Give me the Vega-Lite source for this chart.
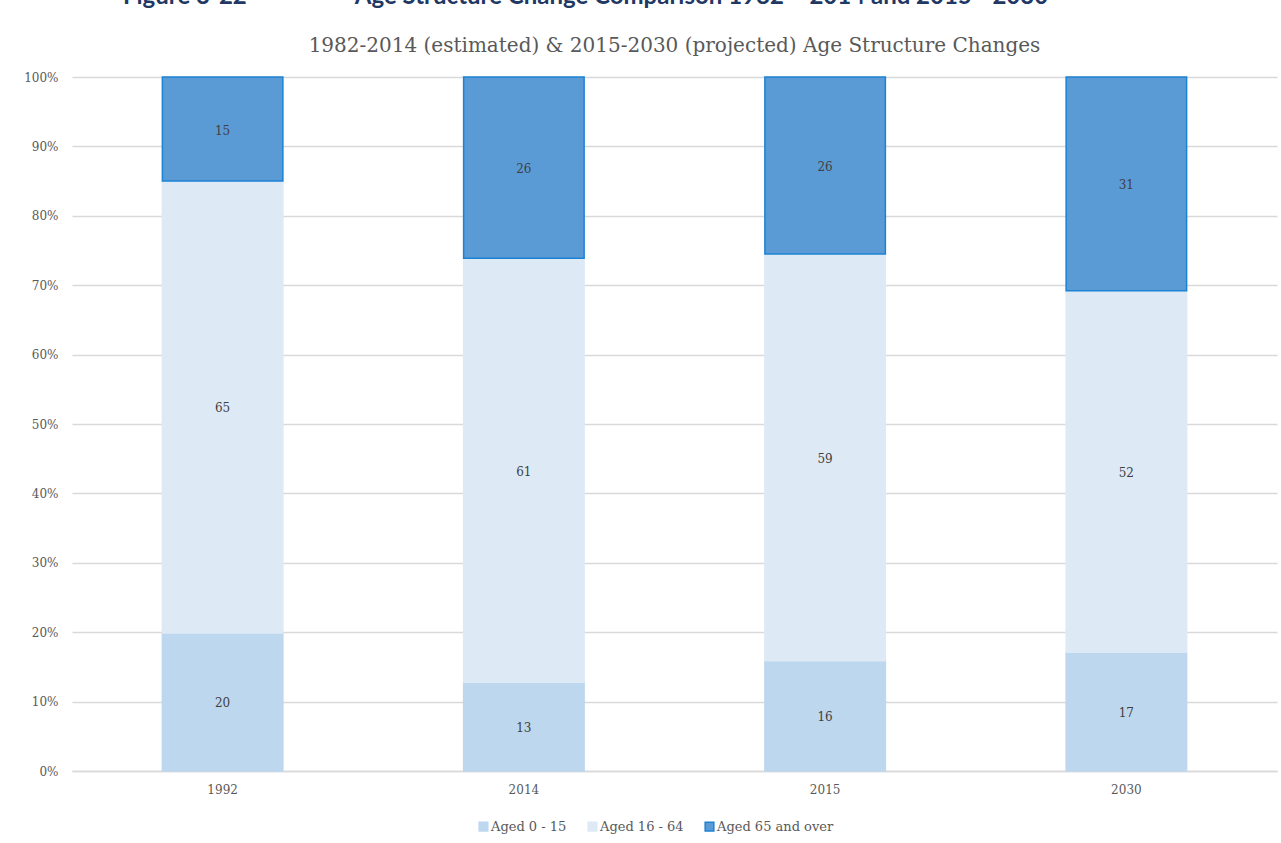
{
  "$schema": "https://vega.github.io/schema/vega-lite/v6.json",
  "width": 1205,
  "height": 694,
  "autosize": {"type": "none"},
  "padding": {"left": 72, "top": 77, "right": 4, "bottom": 72},
  "background": "white",
  "config": {"view": {"stroke": null}},
  "title": {
    "text": "Figure 3-22\u2003\u2003\u2003\u2003\u2003\u2003Age Structure Change Comparison 1982 \u2013 2014 and 2015 - 2030",
    "subtitle": "1982-2014 (estimated) & 2015-2030 (projected) Age Structure Changes",
    "anchor": "middle",
    "font": "Lato",
    "fontSize": 24,
    "fontWeight": "bold",
    "color": "#1F3864",
    "subtitleFont": "DejaVu Serif",
    "subtitleFontSize": 20,
    "subtitleColor": "#595959",
    "subtitlePadding": 27,
    "offset": 15,
    "encoding": {"dx": {"value": -89}}
  },
  "data": {
    "values": [
      {"year": "1992", "group": "Aged 0 - 15", "k": 1, "value": 19.9},
      {"year": "1992", "group": "Aged 16 - 64", "k": 2, "value": 65.1},
      {"year": "1992", "group": "Aged 65 and over", "k": 3, "value": 15.0},
      {"year": "2014", "group": "Aged 0 - 15", "k": 1, "value": 12.8},
      {"year": "2014", "group": "Aged 16 - 64", "k": 2, "value": 61.1},
      {"year": "2014", "group": "Aged 65 and over", "k": 3, "value": 26.1},
      {"year": "2015", "group": "Aged 0 - 15", "k": 1, "value": 15.9},
      {"year": "2015", "group": "Aged 16 - 64", "k": 2, "value": 58.6},
      {"year": "2015", "group": "Aged 65 and over", "k": 3, "value": 25.5},
      {"year": "2030", "group": "Aged 0 - 15", "k": 1, "value": 17.1},
      {"year": "2030", "group": "Aged 16 - 64", "k": 2, "value": 52.1},
      {"year": "2030", "group": "Aged 65 and over", "k": 3, "value": 30.8}
    ]
  },
  "transform": [
    {"stack": "value", "groupby": ["year"], "sort": [{"field": "k", "order": "ascending"}], "as": ["v0", "v1"]},
    {"calculate": "(datum.v0 + datum.v1) / 2", "as": "mid"}
  ],
  "encoding": {
    "x": {
      "field": "year",
      "type": "nominal",
      "title": null,
      "scale": {"paddingInner": 0.6, "paddingOuter": 0.3},
      "axis": {
        "labelAngle": 0,
        "labelFont": "DejaVu Serif",
        "labelFontSize": 12,
        "labelColor": "#595959",
        "labelPadding": 13,
        "ticks": false,
        "domainColor": "#D9D9D9",
        "domainWidth": 1.5
      }
    }
  },
  "layer": [
    {
      "mark": {"type": "bar", "strokeWidth": 1.5},
      "encoding": {
        "y": {
          "field": "v0",
          "type": "quantitative",
          "title": null,
          "scale": {"domain": [0, 100], "nice": false},
          "axis": {
            "values": [0, 10, 20, 30, 40, 50, 60, 70, 80, 90, 100],
            "labelExpr": "datum.value + '%'",
            "labelFont": "DejaVu Serif",
            "labelFontSize": 12,
            "labelColor": "#595959",
            "labelPadding": 14,
            "ticks": false,
            "domain": false,
            "gridColor": "#D9D9D9",
            "gridWidth": 1.5
          }
        },
        "y2": {"field": "v1"},
        "color": {
          "field": "group",
          "type": "nominal",
          "scale": {
            "domain": ["Aged 0 - 15", "Aged 16 - 64", "Aged 65 and over"],
            "range": ["#BDD7EE", "#DDEAF6", "#5B9BD5"]
          },
          "legend": {
            "title": null,
            "orient": "none",
            "legendX": 405,
            "legendY": 743,
            "direction": "horizontal",
            "symbolType": "square",
            "symbolSize": 75,
            "labelFont": "DejaVu Serif",
            "labelFontSize": 13,
            "labelColor": "#595959",
            "labelOffset": 1,
            "columnPadding": 18
          }
        },
        "stroke": {
          "field": "group",
          "type": "nominal",
          "scale": {
            "domain": ["Aged 0 - 15", "Aged 16 - 64", "Aged 65 and over"],
            "range": ["#BDD7EE", "#DDEAF6", "#1C82D4"]
          },
          "legend": {
            "title": null,
            "orient": "none",
            "legendX": 405,
            "legendY": 743,
            "direction": "horizontal",
            "symbolType": "square",
            "symbolSize": 75,
            "labelFont": "DejaVu Serif",
            "labelFontSize": 13,
            "labelColor": "#595959",
            "labelOffset": 1,
            "columnPadding": 18
          }
        }
      }
    },
    {
      "mark": {"type": "text", "font": "DejaVu Serif", "fontSize": 12, "color": "#404040", "dy": 1.5},
      "encoding": {
        "y": {"field": "mid", "type": "quantitative"},
        "text": {"field": "value", "type": "quantitative", "format": ".0f"}
      }
    }
  ]
}
